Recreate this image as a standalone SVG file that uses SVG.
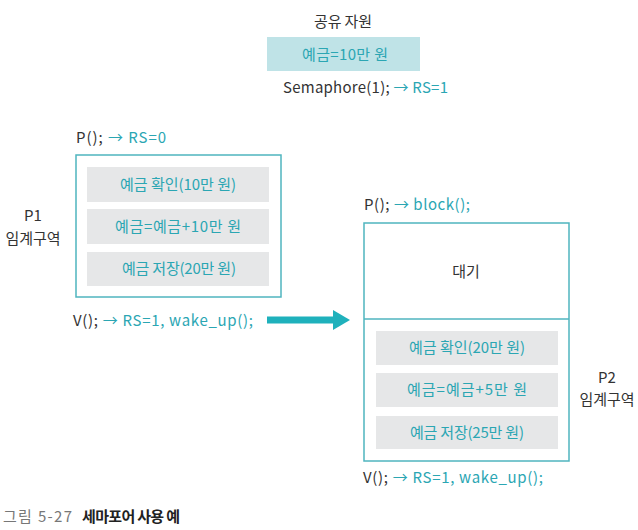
<svg xmlns="http://www.w3.org/2000/svg" width="638" height="530" viewBox="0 0 638 530">
<style>
text{font-family:"Noto Sans CJK KR","Noto Sans",sans-serif;font-size:15px;fill:#333}
.t{fill:#2ba6b3}
.c{text-anchor:middle}
.frame{fill:#fff;stroke:#4fb5bf;stroke-width:1.5}
.step{fill:#e6e7e8}
</style>
<rect width="638" height="530" fill="#fff"/>
<g id="shared">
<text class="c" x="343" y="27" textLength="58" lengthAdjust="spacing">공유 자원</text>
<rect x="267" y="37" width="153" height="34" fill="#bfe3e7"/>
<text class="c t" x="345" y="60" textLength="86" lengthAdjust="spacing">예금=10만 원</text>
<text x="283" y="93" textLength="165" lengthAdjust="spacing">Semaphore(1); <tspan class="t">→ RS=1</tspan></text>
</g>
<g id="p1">
<text x="76" y="143" textLength="90" lengthAdjust="spacing">P(); <tspan class="t">→ RS=0</tspan></text>
<rect class="frame" x="76" y="155" width="205" height="142"/>
<rect class="step" x="87" y="167" width="182" height="35"/>
<text class="c t" x="178" y="190" textLength="116" lengthAdjust="spacing">예금 확인(10만 원)</text>
<rect class="step" x="87" y="209" width="182" height="35"/>
<text class="c t" x="178" y="232" textLength="126" lengthAdjust="spacing">예금=예금+10만 원</text>
<rect class="step" x="87" y="252" width="182" height="34"/>
<text class="c t" x="179" y="274" textLength="114" lengthAdjust="spacing">예금 저장(20만 원)</text>
<text class="c" x="33" y="221">P1</text>
<text class="c" x="33" y="244">임계구역</text>
<text x="73" y="326" textLength="180" lengthAdjust="spacing">V(); <tspan class="t">→ RS=1, wake_up();</tspan></text>
</g>
<g id="connectors">
<rect x="267" y="316.5" width="68" height="7" fill="#1fb1bc"/>
<polygon points="333,310 350,320 333,330" fill="#1fb1bc"/>
</g>
<g id="p2">
<text x="364" y="210" textLength="106" lengthAdjust="spacing">P(); <tspan class="t">→ block();</tspan></text>
<rect class="frame" x="364" y="223" width="205" height="238"/>
<line x1="364" y1="319" x2="569" y2="319" stroke="#4fb5bf" stroke-width="1.5"/>
<text class="c" x="466" y="277">대기</text>
<rect class="step" x="376" y="331" width="182" height="34"/>
<text class="c t" x="467" y="353" textLength="116" lengthAdjust="spacing">예금 확인(20만 원)</text>
<rect class="step" x="376" y="373" width="182" height="34"/>
<text class="c t" x="467" y="395" textLength="120" lengthAdjust="spacing">예금=예금+5만 원</text>
<rect class="step" x="376" y="416" width="182" height="33"/>
<text class="c t" x="467" y="438" textLength="114" lengthAdjust="spacing">예금 저장(25만 원)</text>
<text class="c" x="607" y="383">P2</text>
<text class="c" x="607" y="405">임계구역</text>
<text x="363" y="483" textLength="180" lengthAdjust="spacing">V(); <tspan class="t">→ RS=1, wake_up();</tspan></text>
</g>
<g id="caption">
<text x="3" y="522" style="fill:#777" textLength="69" lengthAdjust="spacing">그림 5-27</text>
<text x="82" y="522" style="fill:#222;font-weight:bold" textLength="98" lengthAdjust="spacing">세마포어 사용 예</text>
</g>
</svg>
